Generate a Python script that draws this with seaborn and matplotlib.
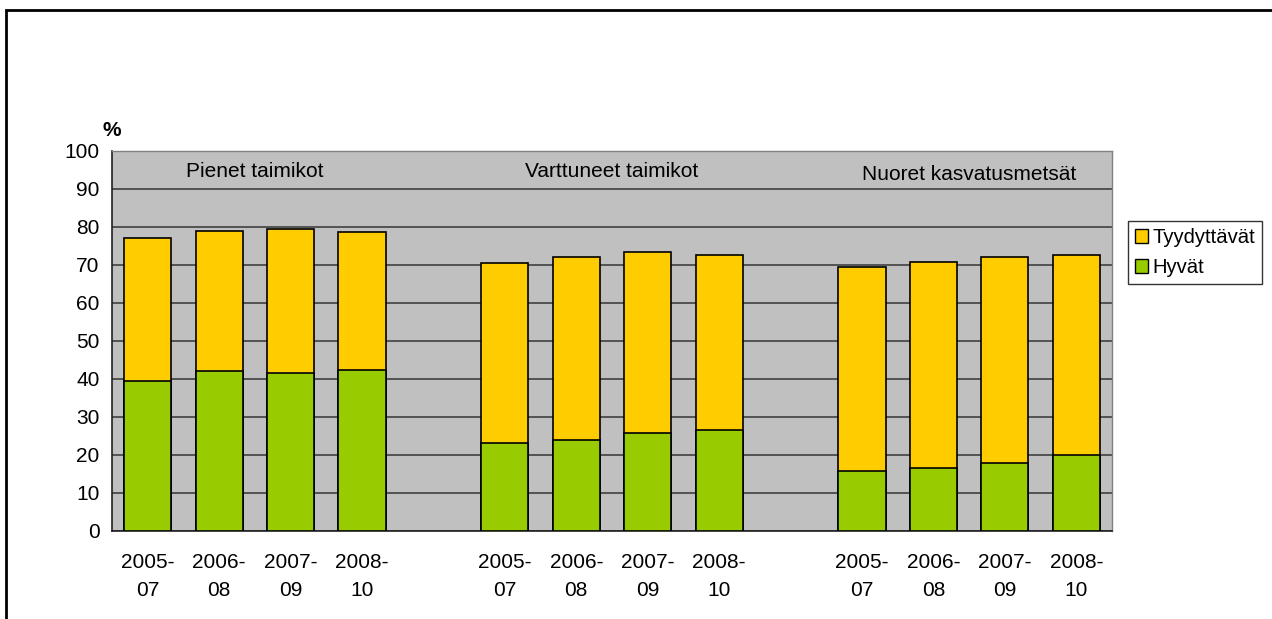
import matplotlib
matplotlib.use("Agg")
import matplotlib.pyplot as plt
import matplotlib.patches as mpatches
import seaborn as sns
import pandas as pd

periods = ["2005-\n07", "2006-\n08", "2007-\n09", "2008-\n10"]
groups = ["Pienet taimikot", "Varttuneet taimikot", "Nuoret kasvatusmetsät"]
hyvat = [39.5, 42.0, 41.6, 42.4,
         23.2, 24.0, 25.8, 26.6,
         15.8, 16.6, 17.9, 20.0]
yhteensa = [77.1, 78.9, 79.5, 78.7,
            70.5, 72.1, 73.4, 72.6,
            69.5, 70.8, 72.1, 72.6]
series_names = ["Tyydyttävät", "Hyvät"]
colors = {"Tyydyttävät": "#FFCC00", "Hyvät": "#99CC00"}

sns.set_style("white")
plt.rcParams["font.family"] = ["Liberation Sans", "DejaVu Sans"]
plt.rcParams["text.color"] = "black"
plt.rcParams["xtick.color"] = "black"
plt.rcParams["ytick.color"] = "black"
FS = 15

# slot keys, with empty slots between groups
order = []
keys = []
for gi, g in enumerate(groups):
    for p in periods:
        k = f"{gi}_{p}"
        order.append(k)
        keys.append(k)
    if gi < len(groups) - 1:
        order.append(f"gap{gi}")
df = pd.DataFrame({"slot": keys, "hyvat": hyvat, "total": yhteensa})

fig = plt.figure(figsize=(12.72, 6.19), dpi=100)
ax = fig.add_axes([112 / 1272, 1 - 531 / 619, 1000 / 1272, 380 / 619])
ax.set_facecolor("#C0C0C0")

sns.barplot(data=df, x="slot", y="total", order=order, color=colors["Tyydyttävät"],
            saturation=1, width=0.66, edgecolor="black", linewidth=1.2, ax=ax, zorder=3)
sns.barplot(data=df, x="slot", y="hyvat", order=order, color=colors["Hyvät"],
            saturation=1, width=0.66, edgecolor="black", linewidth=1.2, ax=ax, zorder=3)

n = len(order)
ax.set_xlim(-0.5, n - 0.5)
ax.set_ylim(0, 100)
ax.set_yticks(range(0, 101, 10))
ax.yaxis.grid(True, color="#404040", linewidth=1.2, zorder=0)
ax.set_axisbelow(True)

# x ticks at slot boundaries, labels centered in slots
ax.set_xticks([i - 0.5 for i in range(n + 1)])
ax.set_xticklabels([])
ax.set_xticks(range(n), minor=True)
labels = [("" if k.startswith("gap") else k.split("_", 1)[1]) for k in order]
ax.set_xticklabels(labels, minor=True, fontsize=FS, linespacing=1.6, color="black")
ax.tick_params(axis="x", which="minor", length=0, pad=15.5)
ax.tick_params(axis="x", which="major", length=6, width=1.2, color="#202020", direction="out")
ax.tick_params(axis="y", length=6, width=1.2, color="#202020", direction="out",
               labelsize=FS, pad=3, labelcolor="black")
ax.set_xlabel("")
ax.set_ylabel("")

for s in ["top", "right"]:
    ax.spines[s].set_visible(True)
    ax.spines[s].set_color("#808080")
    ax.spines[s].set_linewidth(1)
for s in ["left", "bottom"]:
    ax.spines[s].set_color("#202020")
    ax.spines[s].set_linewidth(1.2)

# group labels
for gi, g in enumerate(groups):
    center = gi * 5 + 1.5
    yy = 94.7 if gi < 2 else 93.7
    ax.text(center, yy, g, ha="center", va="center", fontsize=FS, color="black", zorder=5)

fig.text(112 / 1272, 1 - 131 / 619, "%", ha="center", va="center", fontsize=FS,
         fontweight="bold", color="black")

handles = [mpatches.Patch(facecolor=colors[s], edgecolor="black", linewidth=1) for s in series_names]
leg = fig.legend(handles, series_names, loc="upper left",
                 bbox_to_anchor=(1128 / 1272, 1 - 221 / 619), fontsize=14.6,
                 frameon=True, fancybox=False, edgecolor="black",
                 handlelength=0.65, handleheight=0.65, handletextpad=0.2,
                 borderpad=0.35, labelspacing=0.55, borderaxespad=0)
leg.get_frame().set_linewidth(1)

# outer border (top & left visible)
border = mpatches.Rectangle((6 / 1272, -0.05), 1.2, 1 - 10 / 619 + 0.05,
                            transform=fig.transFigure, fill=False,
                            edgecolor="black", linewidth=2, clip_on=False)
fig.patches.append(border)

fig.savefig("out.png", dpi=100)
